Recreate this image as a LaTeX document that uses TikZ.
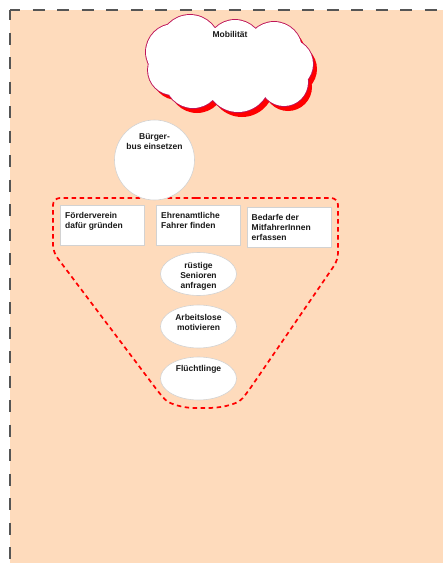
\documentclass[tikz,border=0pt]{standalone}
\usepackage{fontspec}
\setmainfont{Liberation Sans}
\usetikzlibrary{shapes.geometric}

\definecolor{peach}{RGB}{254,219,188}
\definecolor{framegray}{RGB}{85,85,85}
\definecolor{cloudline}{RGB}{190,20,90}
\definecolor{shapeline}{RGB}{210,210,210}

\tikzset{
  lbl/.style={font=\fontsize{8.5}{10}\selectfont\bfseries, inner sep=0pt, text=black!90},
  taskbox/.style={rectangle, draw=shapeline, fill=white, line width=0.6pt,
    minimum width=84pt, minimum height=40pt, inner sep=0pt},
  idea/.style={ellipse, draw=shapeline, fill=white, line width=0.6pt,
    minimum width=76pt, minimum height=43pt, inner sep=0pt},
  groupline/.style={draw=red, line width=1.7pt, dash pattern=on 4.5pt off 3.5pt},
  framedash/.style={draw=framegray, line width=2pt, dash pattern=on 12pt off 12.5pt, dash phase=2pt}
}

% the puffs that make up the cloud outline
\newcommand{\cloudpuffs}{%
  (190,45) circle[radius=30]
  (235,48) circle[radius=28]
  (274,50) circle[radius=28]
  (288,64) circle[radius=25]
  (284,82) circle[radius=24]
  (238,80) circle[radius=32]
  (193,80) circle[radius=28]
  (173,70) circle[radius=25]
  (174,52) circle[radius=28]
  (229,65) ellipse[x radius=62, y radius=30]}

\begin{document}
\begin{tikzpicture}[x=1pt,y=-1pt]
\useasboundingbox (0,0) rectangle (443,563);

% panel background and its dashed top and left edges
\fill[peach] (10,10) rectangle (443,563);
\coordinate (corner) at (10,10);
\coordinate (topend) at (443,10);
\coordinate (leftend) at (10,563);
\draw[framedash] (corner) -- (topend);
\draw[framedash] (corner) -- (leftend);

% topic cloud: red offset shadow, outline, white body
\fill[red, shift={(4,5)}] \cloudpuffs;
\draw[cloudline, line width=1.8pt] \cloudpuffs;
\fill[white] \cloudpuffs;
\node[lbl] (cloudT) at (230,34) {Mobilität};

% dashed grouping outline, starting in the middle of its top edge
\coordinate (g0) at (196,198);
\coordinate (g1) at (53,252);
\coordinate (g2) at (53,198);
\coordinate (g3) at (338,198);
\coordinate (g4) at (338,260);
\coordinate (g5) at (247,393);
\coordinate (g6) at (201,408);
\coordinate (g7) at (160,394);
\draw[groupline, rounded corners=7pt]
  (g0) -- (g3) -- (g4) -- (g5)
  .. controls (236,406) and (216,408) .. (g6)
  .. controls (186,408) and (170,405) .. (g7)
  -- (g1) -- (g2) -- (g0);

% main measure, lying over the outline
\node[circle, draw=shapeline, fill=white, line width=0.6pt, minimum size=80pt, inner sep=0pt] (bus) at (154.5,160) {};
\node[lbl, align=center] (busT) at (154.5,141.5) {Bürger-\\bus einsetzen};

% sub-tasks
\node[taskbox] (verein) at (102.5,225.5) {};
\node[taskbox] (fahrer) at (198.5,225.5) {};
\node[taskbox] (bedarf) at (289,227) {};
\node[lbl, align=left, anchor=west] (vereinT) at (65,221) {Förderverein\\dafür gründen};
\node[lbl, align=left, anchor=west] (fahrerT) at (161,220.5) {Ehrenamtliche\\Fahrer finden};
\node[lbl, align=left, anchor=west] (bedarfT) at (251.5,227) {Bedarfe der\\MitfahrerInnen\\erfassen};

% driver sources
\node[idea] (senioren) at (198.5,274) {};
\node[idea] (arbeit) at (198.5,326.5) {};
\node[idea] (fluecht) at (198.5,378.5) {};
\node[lbl, align=center] (seniorenT) at (198.5,276) {rüstige\\Senioren\\anfragen};
\node[lbl, align=center] (arbeitT) at (198.5,322.5) {Arbeitslose\\motivieren};
\node[lbl, align=center] (fluechtT) at (198.5,369) {Flüchtlinge};
\end{tikzpicture}
\end{document}
